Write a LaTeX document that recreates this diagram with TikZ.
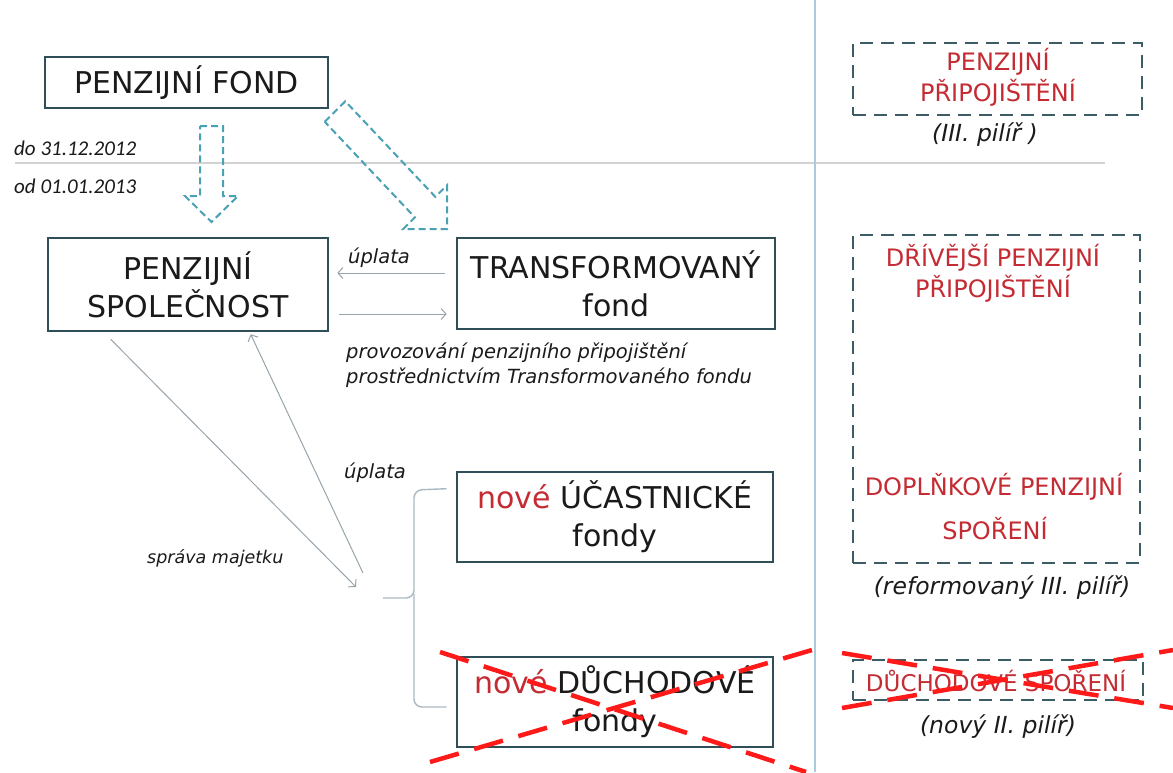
\documentclass[tikz,border=0pt]{standalone}
\usepackage{fontspec}
\setmainfont{DejaVu Sans}
\newfontfamily\datefont{Carlito}
\usetikzlibrary{arrows.meta,calc}
\definecolor{boxc}{HTML}{2F4E58}
\definecolor{dboxc}{HTML}{3C5C66}
\definecolor{txt}{HTML}{1A1A1A}
\definecolor{redtxt}{HTML}{C42B33}
\definecolor{connc}{HTML}{98A4AC}
\definecolor{bracec}{HTML}{A9B9C1}
\definecolor{arrc}{HTML}{4AA0B5}
\definecolor{xred}{HTML}{FF1A1A}
\definecolor{datelinec}{HTML}{D2D2D2}
\definecolor{vlinec}{HTML}{A8CCDA}
\tikzset{
  box/.style={draw=boxc, line width=2.6pt, fill=white, inner sep=0pt, align=center,
    text=txt, font=\fontsize{30}{38}\selectfont},
  dbox/.style={draw=dboxc, line width=2.4pt, dash pattern=on 13pt off 8pt, inner sep=0pt},
  rtxt/.style={text=redtxt, font=\fontsize{24}{31}\selectfont, align=center, inner sep=0pt},
  itxt/.style={text=txt, font=\fontsize{19.5}{25}\selectfont\itshape, inner sep=0pt, align=left},
  ritxt/.style={text=txt, font=\fontsize{23.5}{28}\selectfont\itshape, inner sep=0pt},
  dtxt/.style={text=txt, font=\fontsize{21}{25}\selectfont\datefont\itshape, inner sep=0pt},
  conn/.style={draw=connc, line width=1pt, -{Straight Barb[length=5pt,width=11pt]}},
  bracepath/.style={draw=bracec, line width=1.4pt},
  blockarrow/.style={draw=arrc, line width=2pt, dash pattern=on 7pt off 4pt, line join=miter},
  cross/.style={draw=xred, line width=4.5pt, dash pattern=on 30pt off 16pt},
}
\begin{document}
\begin{tikzpicture}[x=1pt,y=-1pt]
\useasboundingbox[fill=white] (0,0) rectangle (1173,772);

% separators
\draw[datelinec, line width=1.5pt] (15,163) -- (1105,163);
\draw[vlinec, line width=1.5pt] (815,0) -- (815,772);

% main boxes
\node[box, minimum width=283pt, minimum height=51pt] (pf) at (186.5,82.5) {PENZIJNÍ FOND};
\node[box, minimum width=280pt, minimum height=93pt] (spol) at (188,284.5) {PENZIJNÍ\\SPOLEČNOST};
\node[box, minimum width=318pt, minimum height=91pt] (tf) at (616,283.5) {TRANSFORMOVANÝ\\fond};
\node[box, minimum width=316pt, minimum height=90pt] (ucf) at (615,517) {\textcolor{redtxt}{nové} ÚČASTNICKÉ\\fondy};
\node[box, minimum width=316pt, minimum height=90pt] (duf) at (615,702) {\textcolor{redtxt}{nové} DŮCHODOVÉ\\fondy};

% date labels
\node[dtxt, anchor=west] (d1) at (14,148) {do 31.12.2012};
\node[dtxt, anchor=west] (d2) at (14,186) {od 01.01.2013};

% block arrows (dashed outlines)
\draw[blockarrow] (200,126) -- (223,126) -- (223,196) -- (238,196) -- (211.5,222)
  -- (185,196) -- (200,196) -- cycle;
\draw[blockarrow] (324.7,121.7) -- (345.3,101.3) -- (435.4,196.9) -- (447,185.2)
  -- (447,229) -- (403.2,229) -- (414.9,217.4) -- cycle;

% connectors between spol and tf
\draw[conn, shorten <=11pt, shorten >=8pt] ([yshift=10.5pt]tf.west) -- ([yshift=10.5pt]tf.west -| spol.east);
\draw[conn, shorten <=10pt, shorten >=9pt] ([yshift=-29.5pt]spol.east) -- ([yshift=-29.5pt]spol.east -| tf.west);
\node[itxt, anchor=west] (u1) at (348,258) {úplata};
\node[itxt, anchor=north west] (prov) at (346,343) {provozování penzijního připojištění\\prostřednictvím Transformovaného fondu};

% diagonal connectors
\coordinate (m1) at (356,587);
\coordinate (m2) at (363,573);
\draw[conn] ($(spol.south west)+(64,7)$) -- (m1);
\draw[conn] (m2) -- ($(spol.south west)+(204,2)$);
\node[itxt, anchor=west] (u2) at (344,473) {úplata};
\node[itxt, anchor=west, font=\fontsize{17.5}{20}\selectfont\itshape] (sm) at (147,558) {správa majetku};

% brace
\coordinate (bt) at ([yshift=-18pt]ucf.north west);
\coordinate (bb) at ([yshift=-5pt]duf.west);
\draw[bracepath, rounded corners=8pt] ([xshift=-9pt]bt) -- (414,490) -- (414,598) -- (383,598);
\draw[bracepath, rounded corners=8pt] (414,594) -- (414,707) -- ([xshift=-9pt]bb);

% right column
\node[dbox, minimum width=289pt, minimum height=72pt] (pp) at (997.5,79) {};
\node[rtxt] (ppt) at (998,77) {PENZIJNÍ\\PŘIPOJIŠTĚNÍ};
\node[ritxt] (p3) at (985,135) {(III. pilíř )};

\node[dbox, minimum width=287pt, minimum height=328pt] (dr) at (996.5,399) {};
\node[rtxt] (drt) at (993,273) {DŘÍVĚJŠÍ PENZIJNÍ\\PŘIPOJIŠTĚNÍ};
\node[rtxt] (dps1) at (994,487) {DOPLŇKOVÉ PENZIJNÍ};
\node[rtxt] (dps2) at (995,529) {SPOŘENÍ};
\node[ritxt] (p3r) at (1002,588) {(reformovaný III. pilíř)};

\node[dbox, minimum width=290pt, minimum height=40pt] (ds) at (998,680) {};
\node[rtxt, font=\fontsize{23}{28}\selectfont] (dst) at (996,681) {DŮCHODOVÉ SPOŘENÍ};
\node[ritxt] (p2) at (998,727) {(nový II. pilíř)};

% red crosses
\draw[cross] (440,652) -- (806,772);
\draw[cross] (430,762) -- (812,650);
\draw[cross] (842,653) -- (1173,708);
\draw[cross] (842,708) -- (1173,650);
\end{tikzpicture}
\end{document}
